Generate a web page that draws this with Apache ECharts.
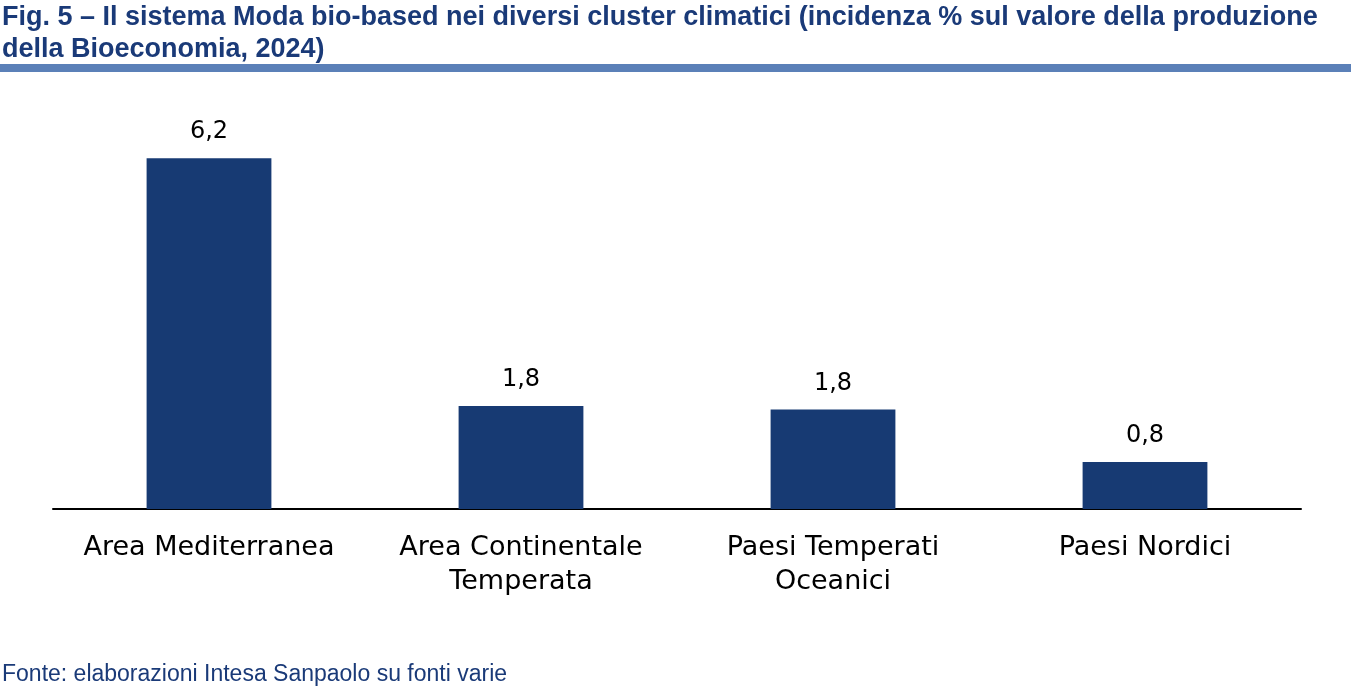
<!DOCTYPE html>
<html>
<head>
<meta charset="utf-8">
<script src="https://cdn.jsdelivr.net/npm/echarts@6/dist/echarts.min.js"></script>
<style>
html,body{margin:0;padding:0;background:#fff;}
#c{width:1362px;height:690px;}
</style>
</head>
<body>
<div id="c"></div>
<script>
const titleLines = ["Fig. 5 – Il sistema Moda bio-based nei diversi cluster climatici (incidenza % sul valore della produzione", "della Bioeconomia, 2024)"];
const sourceText = "Fonte: elaborazioni Intesa Sanpaolo su fonti varie";
const categories = ["Area Mediterranea", "Area Continentale\nTemperata", "Paesi Temperati\nOceanici", "Paesi Nordici"];
const values = [6.2, 1.82, 1.76, 0.83];

const chart = echarts.init(document.getElementById('c'), null, {renderer: 'canvas'});
chart.setOption({
  animation: false,
  backgroundColor: '#ffffff',
  title: [{
    text: titleLines.join('\n'),
    left: 2, top: 2, padding: 0,
    textStyle: {fontFamily: 'Liberation Sans', fontWeight: 'bold', fontSize: 27, lineHeight: 32, color: '#1A3A78'}
  }, {
    text: sourceText,
    left: 2, top: 663, padding: 0,
    textStyle: {fontFamily: 'Liberation Sans', fontWeight: 'normal', fontSize: 23, color: '#1A3A78'}
  }],
  graphic: [{
    type: 'rect', shape: {x: 0, y: 64, width: 1351, height: 8},
    style: {fill: '#5B80B8'}
  }],
  grid: {left: 53, right: 61, top: 113, bottom: 181},
  xAxis: {
    type: 'category', data: categories,
    axisLine: {lineStyle: {color: '#000', width: 2}},
    axisTick: {show: false},
    axisLabel: {interval: 0, fontFamily: 'DejaVu Sans', fontSize: 27, lineHeight: 34, color: '#000', margin: 22}
  },
  yAxis: {
    type: 'value', min: 0, max: 7, show: false,
    splitLine: {show: false}
  },
  series: [{
    type: 'bar', data: values, barWidth: '40%',
    itemStyle: {color: '#173A73'},
    label: {
      show: true, position: 'top', distance: 14,
      fontFamily: 'DejaVu Sans', fontSize: 24, color: '#000',
      formatter: p => p.value.toFixed(1).replace('.', ',')
    }
  }]
});
</script>
</body>
</html>
